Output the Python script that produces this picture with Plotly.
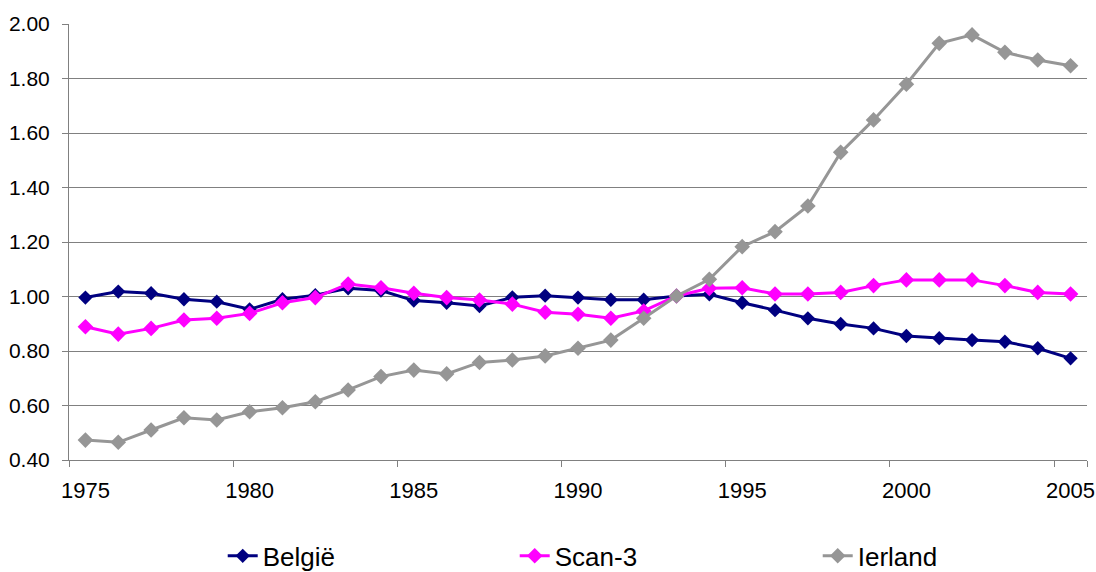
import plotly.graph_objects as go

years = [str(y) for y in range(1975, 2006)]
tick_labels = ["1975", "1980", "1985", "1990", "1995", "2000", "2005"]

belgie = [0.996, 1.018, 1.012, 0.990, 0.981, 0.953, 0.990, 1.005, 1.030, 1.022,
          0.985, 0.977, 0.965, 0.997, 1.003, 0.996, 0.988, 0.988, 1.002, 1.008,
          0.977, 0.950, 0.920, 0.899, 0.883, 0.855, 0.847, 0.840, 0.834, 0.810, 0.773]
scan3 = [0.889, 0.862, 0.883, 0.914, 0.920, 0.938, 0.977, 0.996, 1.046, 1.032,
         1.012, 0.996, 0.987, 0.972, 0.942, 0.935, 0.920, 0.947, 1.002, 1.030,
         1.032, 1.009, 1.009, 1.015, 1.040, 1.061, 1.061, 1.061, 1.040, 1.015, 1.009]
ierland = [0.473, 0.465, 0.510, 0.555, 0.547, 0.577, 0.592, 0.614, 0.657, 0.706,
           0.730, 0.716, 0.758, 0.767, 0.782, 0.810, 0.840, 0.920, 1.002, 1.063,
           1.183, 1.238, 1.332, 1.529, 1.648, 1.779, 1.929, 1.960, 1.896, 1.868, 1.847]

series = [("België", belgie, "#000080", 11, 247),
          ("Scan-3", scan3, "#FF00FF", 12, 258),
          ("Ierland", ierland, "#969696", 12, 100)]

fig = go.Figure()
for name, vals, color, msize, lw in series:
    fig.add_trace(go.Scatter(
        x=years, y=vals, name=name, mode="lines+markers",
        line=dict(color=color, width=3),
        marker=dict(symbol="diamond", size=msize, color=color),
        legendwidth=lw,
    ))

font = "Liberation Sans, Arial, sans-serif"
fig.update_layout(
    width=1096, height=572,
    margin=dict(l=69, r=9, t=24, b=112, autoexpand=False),
    paper_bgcolor="white", plot_bgcolor="white",
    font=dict(family=font, size=21, color="black"),
    showlegend=True,
    legend=dict(orientation="h", x=0.151, xanchor="left", y=-0.22, yanchor="middle",
                font=dict(size=26, family=font), entrywidthmode="pixels",
                bgcolor="rgba(0,0,0,0)"),
    xaxis=dict(type="category", range=[-0.5, 30.5], tickmode="array", tickvals=tick_labels,
               ticktext=tick_labels, tickson="boundaries", ticks="outside", ticklen=6,
               tickangle=0, automargin=False, ticklabelstandoff=11,
               ticklabeloverflow="allow",
               tickcolor="#808080", showgrid=False, showline=True, linecolor="#808080",
               linewidth=1, zeroline=False, tickfont=dict(size=22)),
    yaxis=dict(range=[0.4, 2.0], dtick=0.2, tick0=0.4, tickformat=".2f", ticks="outside",
               ticklen=6, tickcolor="#808080", showgrid=True, gridcolor="#808080", gridwidth=1,
               showline=True, linecolor="#808080", linewidth=1, zeroline=False,
               automargin=False, tickfont=dict(size=21), ticklabelstandoff=8),
)
fig.write_html("out.html", config={"displayModeBar": False},
               post_script="document.body.style.margin='0';document.body.style.overflow='hidden';")
